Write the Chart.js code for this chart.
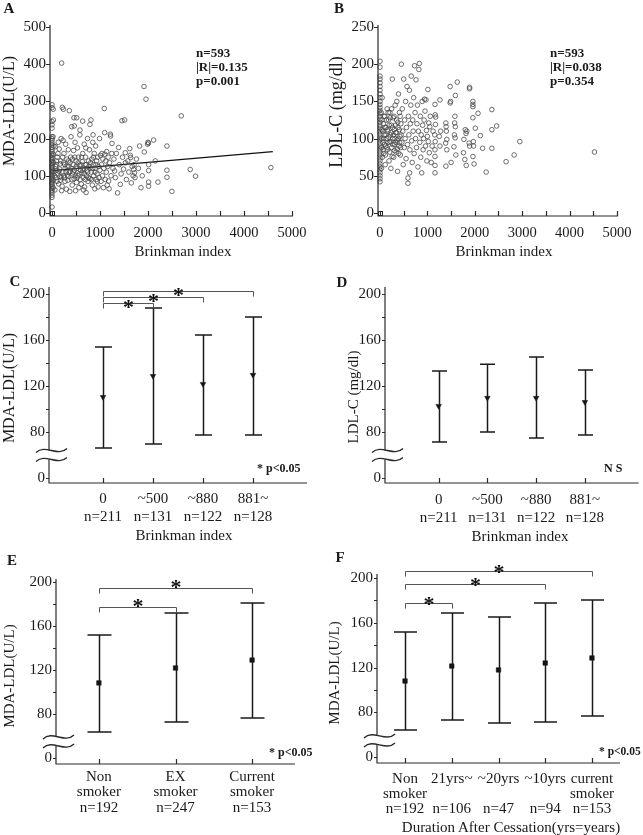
<!DOCTYPE html>
<html>
<head>
<meta charset="utf-8">
<script src="https://cdn.jsdelivr.net/npm/chart.js@4.4.0/dist/chart.umd.min.js"></script>
<style>
  body { margin: 0; width: 643px; height: 835px; position: relative; overflow: hidden; background: #fff;
         font-family: "Liberation Serif", "Times New Roman", serif; color: #1a1a1a; }
  canvas { position: absolute; }
  .t { position: absolute; white-space: nowrap; line-height: 1; transform: translate(-50%, -50%); }
  .l { position: absolute; white-space: nowrap; line-height: 1; transform: translate(0, -50%); }
  .v { transform: translate(-50%, -50%) rotate(-90deg); }
  .b { font-weight: bold; }
</style>
</head>
<body>
<canvas id="cA"></canvas>
<canvas id="cB"></canvas>
<canvas id="cC"></canvas>
<canvas id="cD"></canvas>
<canvas id="cE"></canvas>
<canvas id="cF"></canvas>

<!-- panel letters -->
<div class="t b" style="left:9px;top:8px;font-size:15px">A</div>
<div class="t b" style="left:339px;top:8px;font-size:15px">B</div>
<div class="t b" style="left:15px;top:281px;font-size:15px">C</div>
<div class="t b" style="left:342px;top:282px;font-size:15px">D</div>
<div class="t b" style="left:12px;top:560px;font-size:15px">E</div>
<div class="t b" style="left:340px;top:557px;font-size:15px">F</div>

<!-- statistics -->
<div class="l b" style="left:196px;top:52px;font-size:13px">n=593</div>
<div class="l b" style="left:196px;top:66px;font-size:13px">|R|=0.135</div>
<div class="l b" style="left:196px;top:80px;font-size:13px">p=0.001</div>
<div class="l b" style="left:550px;top:52px;font-size:13px">n=593</div>
<div class="l b" style="left:550px;top:66px;font-size:13px">|R|=0.038</div>
<div class="l b" style="left:550px;top:80px;font-size:13px">p=0.354</div>
<div class="l b" style="left:257px;top:468px;font-size:12px">* p&lt;0.05</div>
<div class="l b" style="left:604px;top:468px;font-size:12px">N S</div>
<div class="l b" style="left:269px;top:752px;font-size:12px">* p&lt;0.05</div>
<div class="l b" style="left:599px;top:752px;font-size:11.5px">* p&lt;0.05</div>

<!-- axis titles -->
<div class="t v" style="left:9px;top:111px;font-size:16px">MDA-LDL(U/L)</div>
<div class="t v" style="left:336px;top:112px;font-size:18px">LDL-C (mg/dl)</div>
<div class="t v" style="left:9px;top:388px;font-size:16px">MDA-LDL(U/L)</div>
<div class="t v" style="left:353px;top:397px;font-size:15px">LDL-C (mg/dl)</div>
<div class="t v" style="left:9px;top:676px;font-size:15px">MDA-LDL(U/L)</div>
<div class="t v" style="left:334px;top:673px;font-size:15px">MDA-LDL(U/L)</div>
<div class="t" style="left:183px;top:251px;font-size:15px">Brinkman index</div>
<div class="t" style="left:504px;top:251px;font-size:15px">Brinkman index</div>
<div class="t" style="left:184px;top:535px;font-size:15px">Brinkman index</div>
<div class="t" style="left:520px;top:536px;font-size:15px">Brinkman index</div>
<div class="t" style="left:511px;top:827px;font-size:15px">Duration After Cessation(yrs=years)</div>

<script>
Chart.defaults.font.family = '"Liberation Serif", "Times New Roman", serif';
Chart.defaults.color = '#1a1a1a';

// A: Brinkman index vs MDA-LDL
const mdaPoints = [
  [0,16],[0,42],[0,48],[0,55],[0,60],[0,65],[0,70],[0,75],[0,78],[0,82],[0,86],[0,90],[0,94],[0,97],
  [0,100],[0,104],[0,108],[0,111],[0,115],[0,118],[0,122],[0,126],[0,130],[0,134],[0,138],[0,142],
  [0,146],[0,150],[0,155],[0,160],[0,165],[0,170],[0,176],[0,182],[0,188],[0,195],[0,200],[0,205],
  [0,228],[0,237],[0,246],[0,283],[0,291],
  [25,68],[30,88],[20,112],[35,136],[28,158],[38,180],[22,205],[30,250],[25,279],
  [60,62],[80,95],[95,130],[110,150],[120,105],[140,78],[150,172],[160,118],[175,88],[185,140],
  [200,60],[190,200],[70,178],[130,190],[100,115],[165,98],
  [215,284],[236,279],[201,403],[210,72],[225,110],[240,135],[250,160],[260,95],[275,120],[285,185],
  [300,64],[310,145],[320,102],[330,88],[340,170],[350,125],[361,275],[370,58],[380,112],[390,150],
  [395,205],[230,195],[270,85],[345,140],
  [410,232],[465,234],[458,256],[514,256],[420,75],[430,105],[440,130],[450,168],[460,92],[470,115],
  [480,190],[490,60],[500,140],[510,82],[520,120],[530,175],[540,100],[550,150],[560,68],[570,128],
  [580,210],[583,223],[590,90],[595,115],[425,145],[485,100],
  [638,247],[610,78],[620,108],[630,138],[640,160],[650,95],[660,120],[670,185],[680,70],[690,130],
  [700,150],[710,55],[720,100],[730,115],[740,200],[750,85],[760,140],[770,125],[780,170],[790,238],
  [795,92],[812,250],[705,175],[655,62],
  [820,110],[830,145],[840,75],[850,190],[860,130],[870,100],[880,160],[890,65],[900,120],[910,180],
  [920,90],[930,140],[940,105],[950,150],[960,70],[970,125],[980,95],[990,200],[1000,115],[855,210],
  [1010,155],[1020,85],[1030,130],[1040,160],[1050,100],[1060,145],[1070,68],[1080,120],[1089,281],
  [1097,216],[1100,158],[1110,90],[1120,140],[1130,110],[1140,165],[1150,75],[1160,125],[1170,150],
  [1180,86],[1190,65],[1200,135],[1215,212],[1220,207],[1230,100],[1245,160],
  [1250,187],[1270,120],[1290,145],[1305,113],[1320,95],[1340,160],[1367,54],[1388,176],[1400,130],
  [1423,77],[1440,105],[1458,248],[1470,150],[1490,118],[1513,250],[1527,162],[1530,135],[1550,90],
  [1580,140],[1600,110],[1620,173],[1630,155],[1640,149],[1652,81],[1670,125],[1690,100],
  [1700,117],[1710,130],[1720,108],[1730,95],[1760,145],[1800,120],[1825,180],[1853,68],[1880,100],
  [1917,340],[1922,164],[1958,306],[1990,185],[2000,190],[2010,188],[2013,72],[2013,83],[2013,114],
  [2013,130],[2117,196],[2207,83],[2150,140],
  [2394,180],[2394,96],[2394,115],[2498,58],[2693,261],[2880,117],[2991,99],[4560,122],
  [55,100],[75,125],[90,140],[105,85],[125,160],[145,112],[170,132],[195,95],[220,150],[245,100],
  [265,130],[290,110],[315,125],[335,98],[355,108],[375,135],[400,120],[415,90],[445,110],[475,150],
  [505,125],[525,95],[545,135],[565,105],[600,130],[615,150],[645,115],[675,105],[695,90],[715,130],
  [745,110],[765,95],[785,120],[805,135],[825,90],[845,120],[865,150],[895,110],[915,130],[945,85]
];
const fitX = [0, 4600];
const fitY = [114, 165];

// B: Brinkman index vs LDL-C
const ldlPoints = [
  [0,42],[0,46],[0,50],[0,54],[0,58],[0,62],[0,66],[0,70],[0,74],[0,78],[0,82],[0,86],[0,90],[0,94],
  [0,98],[0,102],[0,106],[0,110],[0,114],[0,118],[0,122],[0,126],[0,130],[0,134],[0,138],[0,142],
  [0,146],[0,150],[0,155],[0,160],[0,165],[0,170],[0,175],[0,180],[0,184],[0,196],[0,204],
  [30,60],[35,88],[40,112],[25,135],[45,155],[30,100],[50,75],[40,125],
  [60,95],[70,120],[80,80],[90,105],[100,130],[110,65],[120,90],[130,115],[140,100],[150,140],
  [160,85],[170,110],[180,125],[190,70],[200,95],[210,135],[220,105],[230,60],[240,118],[250,88],
  [260,180],[270,100],[280,128],[290,75],[300,112],[310,92],[320,145],[330,108],[340,82],[350,125],
  [360,98],[370,56],[380,115],[390,160],[400,90],[410,135],[420,103],[430,78],[440,120],[450,200],
  [460,95],[470,140],[480,110],[490,65],[500,180],[510,88],[520,125],[530,100],[540,150],[550,73],
  [560,115],[570,170],[580,92],[590,40],[590,47],[600,130],[610,105],[620,165],[625,54],[630,85],
  [640,120],[650,145],[660,184],[670,97],[680,68],[690,125],[700,110],[710,155],[720,80],[730,198],
  [740,135],[750,100],[760,179],[770,88],[780,120],[790,145],[800,62],[810,110],[820,193],[830,201],
  [840,95],[850,130],[860,75],[870,105],[880,54],[890,150],[900,118],[910,85],[920,100],[930,125],
  [940,153],[950,137],[960,90],[970,152],[980,111],[990,70],[1000,103],[1010,166],[1020,96],[1030,121],
  [1040,81],[1050,116],[1060,130],[1080,68],[1100,90],[1120,110],[1160,54],[1160,64],[1160,76],
  [1160,85],[1165,96],[1155,105],[1170,119],[1175,129],[1165,132],[1160,146],[1250,103],[1265,152],
  [1265,90],[1280,110],
  [1390,121],[1395,116],[1400,110],[1410,99],[1385,94],[1390,63],[1410,85],[1480,170],[1490,150],
  [1480,148],[1500,68],[1560,89],[1600,78],[1580,130],[1575,121],[1590,116],[1570,105],[1585,101],
  [1630,176],[1590,158],[1800,112],[1830,110],[1815,107],[1770,99],[1760,81],[1820,64],[1790,72],
  [1890,169],[1890,167],[1880,94],[1890,90],[1960,150],[1960,146],[1960,143],[1960,128],[1970,96],
  [1975,90],[1960,76],[1985,66],[2010,114],[2068,134],[2117,104],[2165,87],[2240,55],[2360,139],
  [2360,112],[2360,87],[2460,117],[2660,69],[2830,78],[2950,96],[4525,82],
  [55,110],[65,85],[75,100],[85,130],[95,92],[105,115],[115,78],[125,105],[135,125],[145,88],
  [155,112],[165,95],[175,135],[185,102],[195,118],[205,82],[215,128],[225,96],[235,108],[245,140],
  [255,76],[265,115],[275,92],[285,105],[295,130],[305,84],[315,100],[325,118],[335,95],[345,108],
  [355,150],[365,86],[375,122],[385,100],[395,80],[405,112],[415,95],[425,130],[435,88],[445,105]
];

const brinkTicks = [0, 500, 1000, 1500, 2000, 2500, 3000, 3500, 4000, 4500, 5000];
const mdaTicksA = [0, 100, 200, 300, 400, 500];
const ldlTicksB = [0, 50, 100, 150, 200, 250];

// C, D: groups by Brinkman index
const brinkGroups = [['0'], ['~500'], ['~880'], ['881~']];
const brinkN = ['n=211', 'n=131', 'n=122', 'n=128'];
const mdaMeanC = [110.4, 128.7, 121.7, 129.6];
const mdaHighC = [153.9, 187.8, 164.3, 180];
const mdaLowC = [66, 69.6, 77.4, 77.4];
const ldlMeanD = [102.6, 109.6, 109.6, 106];
const ldlHighD = [133, 139, 145.2, 133.9];
const ldlLowD = [71.3, 80, 74.8, 77.4];
const sigC = [[0, 1, 192.2], [0, 2, 197.4], [0, 3, 202.6]];

// E: smoking status
const smokeGroups = [['Non', 'smoker'], ['EX', 'smoker'], ['Current', 'smoker']];
const smokeN = ['n=192', 'n=247', 'n=153'];
const mdaMeanE = [108.2, 121.8, 129];
const mdaHighE = [151.8, 171.8, 180.9];
const mdaLowE = [63.6, 72.7, 76.4];
const sigE = [[0, 1, 177.3], [0, 2, 194.5]];

// F: duration after cessation
const cessGroups = [['Non', 'smoker'], ['21yrs~'], ['~20yrs'], ['~10yrs'], ['current', 'smoker']];
const cessN = ['n=192', 'n=106', 'n=47', 'n=94', 'n=153'];
const mdaMeanF = [108, 121.4, 117.9, 124.1, 128.6];
const mdaHighF = [151.8, 168.8, 165.2, 177.7, 180.4];
const mdaLowF = [64.3, 73.2, 70.5, 71.4, 76.8];
const sigF = [[0, 1, 177.7], [0, 3, 194.6], [0, 4, 206.3]];

// broken y axis on the group panels: the "0" label sits at 40
const ZERO_AT = 40;
const groupTicks = [ZERO_AT, 80, 100, 120, 140, 160, 180, 200];
const groupLabeled = [80, 120, 160, 200];

// ---------- helpers ----------
function place(id, box, area) {
  const cv = document.getElementById(id);
  cv.width = box.w; cv.height = box.h;
  cv.style.left = box.l + 'px'; cv.style.top = box.t + 'px';
  cv.style.width = box.w + 'px'; cv.style.height = box.h + 'px';
  return {
    cv,
    padding: { left: 0, top: area.t - box.t, right: box.l + box.w - area.r, bottom: 0 },
    yw: area.l - box.l,
    xh: box.t + box.h - area.b
  };
}

function axesPlugin(opt) {
  return {
    id: 'axes',
    afterDraw(chart) {
      const { ctx, chartArea: a, scales: { x, y } } = chart;
      ctx.save();
      ctx.strokeStyle = '#2a2a2a';
      ctx.lineWidth = 1.2;
      ctx.beginPath();
      ctx.moveTo(a.left, a.top); ctx.lineTo(a.left, a.bottom); ctx.lineTo(a.right, a.bottom);
      y.ticks.forEach(t => {
        const py = Math.round(y.getPixelForValue(t.value)) + 0.5;
        ctx.moveTo(a.left - opt.yTick, py); ctx.lineTo(a.left, py);
      });
      x.ticks.forEach(t => {
        const px = Math.round(x.getPixelForValue(t.value)) + 0.5;
        ctx.moveTo(px, a.bottom); ctx.lineTo(px, a.bottom - 5);
      });
      ctx.stroke();
      if (opt.corner) {
        ctx.lineWidth = 1;
        ctx.strokeRect(a.left + 0.5, a.bottom - 4.5, 4, 4);
      }
      if (opt.breakAt !== undefined) {
        const by = y.getPixelForValue(opt.breakAt), g = 4.5, x0 = a.left - 13, w = 31;
        ctx.fillStyle = '#fff';
        ctx.fillRect(a.left - 2, by - g, 4, 2 * g);
        ctx.lineWidth = 1.4;
        [-g, g].forEach(d => {
          ctx.beginPath();
          ctx.moveTo(x0, by + d + 2);
          ctx.bezierCurveTo(x0 + w * 0.3, by + d - 7, x0 + w * 0.7, by + d + 7, x0 + w, by + d - 2);
          ctx.stroke();
        });
      }
      ctx.restore();
    }
  };
}

function barsPlugin(opt) {
  return {
    id: 'bars',
    afterDatasetsDraw(chart) {
      const { ctx, scales: { x, y } } = chart;
      ctx.save();
      ctx.strokeStyle = '#1a1a1a';
      ctx.lineWidth = 1.5;
      ctx.beginPath();
      opt.high.forEach((h, i) => {
        const px = Math.round(x.getPixelForValue(i)) + 0.5;
        const top = y.getPixelForValue(h), bot = y.getPixelForValue(opt.low[i]);
        ctx.moveTo(px, top); ctx.lineTo(px, bot);
        ctx.moveTo(px - opt.cap, top); ctx.lineTo(px + opt.cap, top);
        ctx.moveTo(px - opt.cap, bot); ctx.lineTo(px + opt.cap, bot);
      });
      ctx.stroke();
      // significance brackets
      ctx.strokeStyle = '#555';
      ctx.lineWidth = 1;
      ctx.fillStyle = '#111';
      ctx.font = 'bold 22px "Liberation Serif", serif';
      ctx.textAlign = 'center';
      ctx.textBaseline = 'alphabetic';
      (opt.sig || []).forEach(([i, j, v]) => {
        const x1 = Math.round(x.getPixelForValue(i)) + 0.5, x2 = Math.round(x.getPixelForValue(j)) + 0.5;
        const py = Math.round(y.getPixelForValue(v)) + 0.5;
        ctx.beginPath();
        ctx.moveTo(x1, py + 5); ctx.lineTo(x1, py); ctx.lineTo(x2, py); ctx.lineTo(x2, py + 5);
        ctx.stroke();
        ctx.fillText('*', (x1 + x2) / 2, py - opt.starLift + 11);
      });
      ctx.restore();
    }
  };
}

// ---------- scatter panels ----------
function scatterChart(id, box, area, pts, xr, yr, yTicks, extra) {
  const f = place(id, box, area);
  const datasets = [{
    data: pts.map(([x, y]) => ({ x, y })),
    pointRadius: 2.3, pointBorderWidth: 0.8,
    pointBorderColor: '#4a4a4a', pointBackgroundColor: 'rgba(0,0,0,0)',
    clip: false
  }];
  if (extra) datasets.push(extra);
  return new Chart(f.cv, {
    type: 'scatter',
    data: { datasets },
    options: {
      responsive: false, animation: false, events: [], devicePixelRatio: 1,
      layout: { padding: f.padding },
      plugins: { legend: { display: false }, tooltip: { enabled: false } },
      scales: {
        x: {
          type: 'linear', min: xr[0], max: xr[1], bounds: 'data',
          afterBuildTicks: s => { s.ticks = brinkTicks.map(v => ({ value: v })); },
          afterFit: s => { s.height = f.xh; },
          grid: { display: false, drawTicks: false }, border: { display: false },
          ticks: { autoSkip: false, maxRotation: 0, padding: 9,
                   font: { size: 14.5, lineHeight: '16px' },
                   callback: v => (v % 1000 === 0 ? String(v) : '') }
        },
        y: {
          type: 'linear', min: yr[0], max: yr[1], bounds: 'data',
          afterBuildTicks: s => { s.ticks = yTicks.map(v => ({ value: v })); },
          afterFit: s => { s.width = f.yw; },
          grid: { display: false, drawTicks: false }, border: { display: false },
          ticks: { padding: 4, font: { size: 15 }, callback: v => String(v) }
        }
      }
    },
    plugins: [axesPlugin({ yTick: 4, corner: true })]
  });
}

scatterChart('cA', { l: 0, t: 0, w: 321, h: 260 }, { l: 50, t: 25, r: 293, b: 216 },
  mdaPoints, [-41.7, 5020.8], [-8.1, 505.4], mdaTicksA,
  { data: fitX.map((x, i) => ({ x, y: fitY[i] })), showLine: true, pointRadius: 0,
    borderColor: '#111', borderWidth: 1.3, clip: false });

scatterChart('cB', { l: 321, t: 0, w: 322, h: 260 }, { l: 378, t: 25, r: 618, b: 216 },
  ldlPoints, [-42, 5021], [-4, 252.7], ldlTicksB, null);

// ---------- group panels ----------
function groupChart(id, box, area, o) {
  const f = place(id, box, area);
  const labels = o.groups.map((g, i) => {
    const lines = g.slice();
    while (lines.length < o.nameLines) lines.push('');
    return lines.concat([o.n[i]]);
  });
  return new Chart(f.cv, {
    type: 'scatter',
    data: {
      datasets: [{
        data: o.mean.map((m, i) => ({ x: i, y: m })),
        pointStyle: o.marker, pointRotation: o.marker === 'triangle' ? 180 : 0,
        pointRadius: 3.2,
        pointBackgroundColor: '#111', pointBorderColor: '#111', pointBorderWidth: 0.5,
        clip: false
      }]
    },
    options: {
      responsive: false, animation: false, events: [], devicePixelRatio: 1,
      layout: { padding: f.padding },
      plugins: { legend: { display: false }, tooltip: { enabled: false } },
      scales: {
        x: {
          type: 'linear', min: o.xr[0], max: o.xr[1], bounds: 'data',
          afterBuildTicks: s => { s.ticks = o.mean.map((_, i) => ({ value: i })); },
          afterFit: s => { s.height = f.xh; },
          grid: { display: false, drawTicks: false }, border: { display: false },
          ticks: { autoSkip: false, maxRotation: 0, padding: o.labPad,
                   font: { size: 15, lineHeight: o.lineH },
                   callback: v => labels[v] }
        },
        y: {
          type: 'linear', min: o.yr[0], max: o.yr[1], bounds: 'data',
          afterBuildTicks: s => { s.ticks = groupTicks.map(v => ({ value: v })); },
          afterFit: s => { s.width = f.yw; },
          grid: { display: false, drawTicks: false }, border: { display: false },
          ticks: { padding: 4, font: { size: 15 },
                   callback: v => (v === ZERO_AT ? '0' : groupLabeled.includes(v) ? String(v) : '') }
        }
      }
    },
    plugins: [
      barsPlugin({ high: o.high, low: o.low, cap: o.cap, sig: o.sig, starLift: o.starLift }),
      axesPlugin({ yTick: 3, breakAt: o.breakAt })
    ]
  });
}

groupChart('cC', { l: 0, t: 262, w: 321, h: 286 }, { l: 49, t: 287, r: 307, b: 483 }, {
  groups: brinkGroups, n: brinkN, nameLines: 1, mean: mdaMeanC, high: mdaHighC, low: mdaLowC,
  sig: sigC, marker: 'triangle', xr: [-1.08, 4.08], yr: [35.65, 206.1], cap: 8.5, starLift: 1,
  breakAt: 60, labPad: 7, lineH: '18px'
});

groupChart('cD', { l: 321, t: 262, w: 322, h: 286 }, { l: 385, t: 287, r: 640, b: 483 }, {
  groups: brinkGroups, n: brinkN, nameLines: 1, mean: ldlMeanD, high: ldlHighD, low: ldlLowD,
  sig: [], marker: 'triangle', xr: [-1.1, 4.1], yr: [35.65, 206.1], cap: 7.5, starLift: 1,
  breakAt: 60, labPad: 8, lineH: '18px'
});

groupChart('cE', { l: 0, t: 550, w: 321, h: 285 }, { l: 56, t: 579, r: 295, b: 764 }, {
  groups: smokeGroups, n: smokeN, nameLines: 2, mean: mdaMeanE, high: mdaHighE, low: mdaLowE,
  sig: sigE, marker: 'rect', xr: [-0.56, 2.56], yr: [34.5, 202.7], cap: 12, starLift: 6,
  breakAt: 55, labPad: 5.25, lineH: '15.5px'
});

groupChart('cF', { l: 321, t: 550, w: 322, h: 285 }, { l: 377, t: 574, r: 620, b: 763 }, {
  groups: cessGroups, n: cessN, nameLines: 2, mean: mdaMeanF, high: mdaHighF, low: mdaLowF,
  sig: sigF, marker: 'rect', xr: [-0.6, 4.6], yr: [34.8, 203.6], cap: 11.5, starLift: 4,
  breakAt: 55, labPad: 8.5, lineH: '15px'
});
</script>
</body>
</html>
